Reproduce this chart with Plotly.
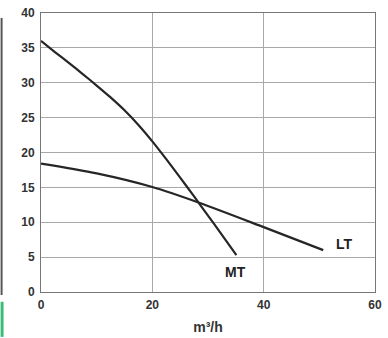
import plotly.graph_objects as go

# Pump performance curves: head (m) versus flow (m³/h)
mt_flow = [0, 2.5, 5, 7.5, 10, 12.5, 15, 17.5, 20, 22.5, 25, 27.5, 30, 32.5, 35.1]
mt_head = [36, 34.4, 32.85, 31.25, 29.6, 27.9, 26.05, 23.95, 21.6, 19.05, 16.4, 13.7, 10.95, 8.2, 5.3]

lt_flow = [0, 10, 20, 28.4, 40, 50.7]
lt_head = [18.4, 17.0, 15.05, 12.8, 9.3, 6.0]

x_ticks = [0, 20, 40, 60]
y_ticks = [0, 5, 10, 15, 20, 25, 30, 35, 40]

curve_color = "#262626"
grid_color = "#a8a8a8"
font_family = "Liberation Sans, Arial, sans-serif"

fig = go.Figure()
fig.add_trace(go.Scatter(x=mt_flow, y=mt_head, mode="lines", name="MT",
                         line=dict(color=curve_color, width=2.2, shape="spline", smoothing=0.5)))
fig.add_trace(go.Scatter(x=lt_flow, y=lt_head, mode="lines", name="LT",
                         line=dict(color=curve_color, width=2.2, shape="spline", smoothing=0.8)))

fig.add_annotation(x=lt_flow[-1] + 1.9, y=lt_head[-1] + 0.9, text="<b>LT</b>", showarrow=False,
                   xanchor="left", font=dict(size=14, color="#222", family=font_family))
fig.add_annotation(x=mt_flow[-1] - 0.2, y=mt_head[-1] - 2.4, text="<b>MT</b>", showarrow=False,
                   xanchor="center", font=dict(size=14, color="#222", family=font_family))

fig.update_layout(
    width=388, height=338,
    margin=dict(l=41, r=8, t=6, b=46),
    paper_bgcolor="white", plot_bgcolor="white",
    showlegend=False,
    font=dict(family=font_family, color="#333"),
    xaxis=dict(range=[0, 60], tickvals=x_ticks, ticktext=[f"<b>{v}</b>" for v in x_ticks],
               showgrid=True, gridcolor=grid_color, gridwidth=1, zeroline=False,
               showline=True, linecolor="#777", linewidth=1, mirror=True,
               ticks="", ticklabelstandoff=2, tickfont=dict(size=12, color="#333"),
               title=dict(text="<b>m³/h</b>", font=dict(size=14, color="#333"), standoff=10)),
    yaxis=dict(range=[0, 40], tickvals=y_ticks, ticktext=[f"<b>{v}</b>" for v in y_ticks],
               showgrid=True, gridcolor=grid_color, gridwidth=1, zeroline=False,
               showline=True, linecolor="#777", linewidth=1, mirror=True,
               ticks="", ticklabelstandoff=3, tickfont=dict(size=12, color="#333")),
    shapes=[
        dict(type="rect", xref="paper", yref="paper", x0=-41/339, x1=-39/339,
             y0=-3/286, y1=281/286,
             fillcolor="#555", line=dict(width=0), layer="above"),
        dict(type="rect", xref="paper", yref="paper", x0=-41/339, x1=-38/339,
             y0=-46/286, y1=-10/286,
             fillcolor="#3cbb78", line=dict(width=0), layer="above"),
    ],
)

fig.write_html("out.html")
